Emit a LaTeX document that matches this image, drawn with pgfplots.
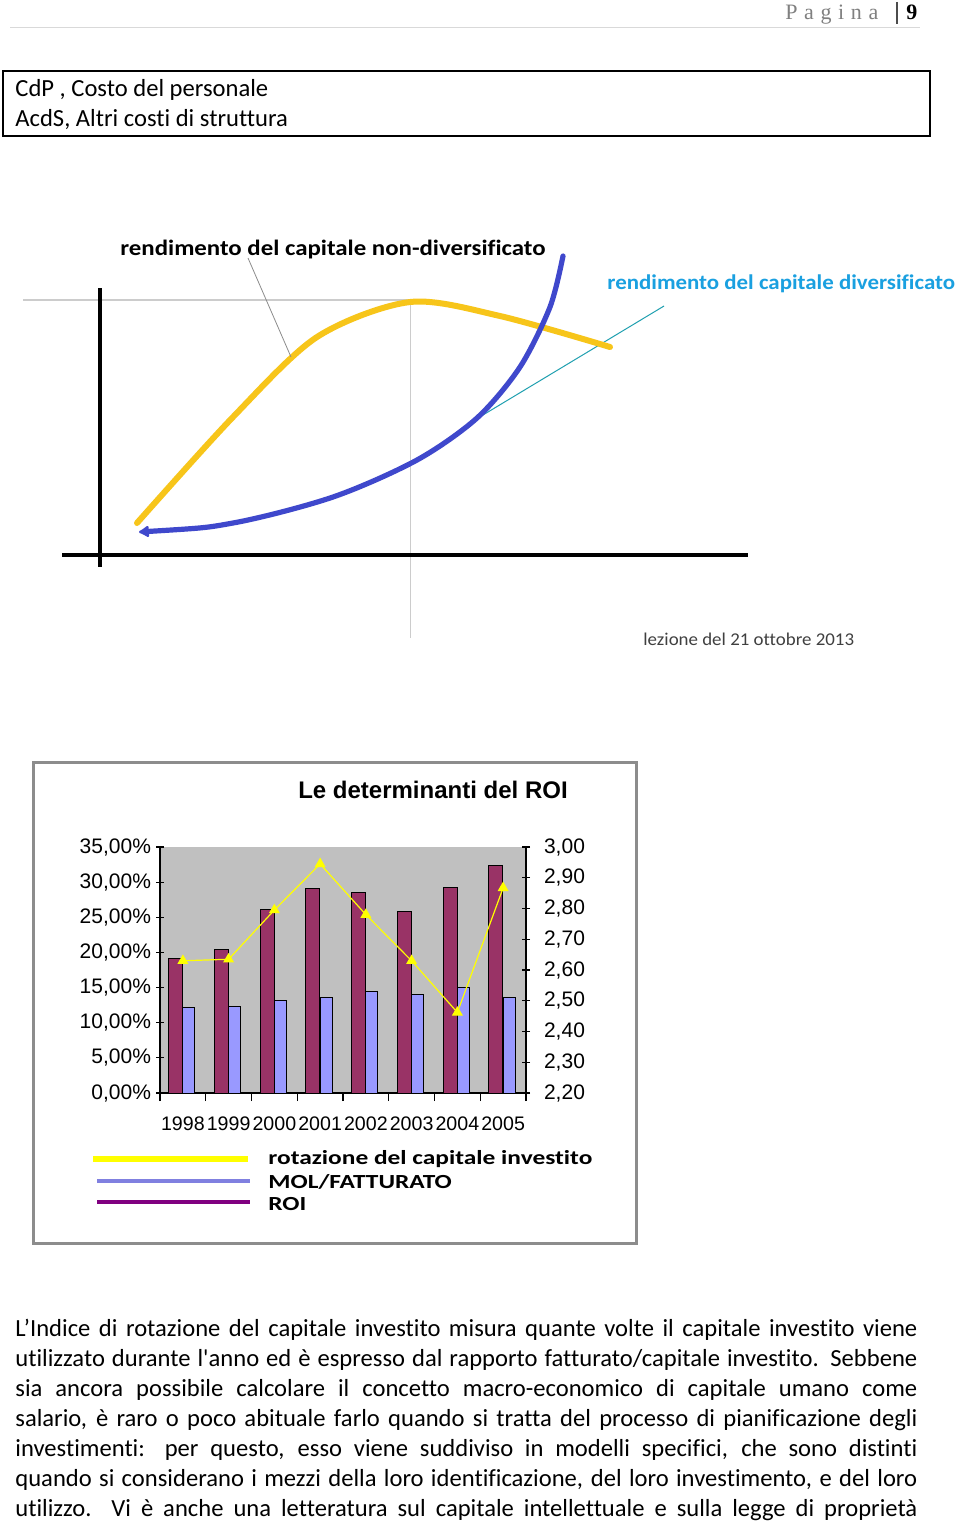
\documentclass[border=0pt]{standalone}
\usepackage{pgfplots}
\pgfplotsset{compat=1.18}
\usepackage{graphicx}
\usepackage{fontspec}
\setmainfont{Carlito}[Ligatures={TeXOff,CommonOff}]
\newfontfamily\arialfont{Liberation Sans}
\newfontfamily\hdrfont[LetterSpace=30]{Liberation Serif}
\newfontfamily\hdrnum{Liberation Serif}
\usetikzlibrary{arrows.meta}
\definecolor{roi}{HTML}{993366}
\definecolor{mol}{HTML}{9999FF}
\definecolor{plotbg}{HTML}{C0C0C0}
\definecolor{yel}{HTML}{FFFF00}
\definecolor{legblue}{HTML}{8080E0}
\definecolor{legpurple}{HTML}{800080}
\definecolor{gold}{HTML}{F7C51A}
\definecolor{paintblue}{HTML}{3F48CC}
\definecolor{tealline}{HTML}{20A0B0}
\definecolor{divtext}{HTML}{1AA0E0}
\definecolor{framegray}{HTML}{8C8C8C}

\pgfplotstableread{
x roi mol rot
0 0.191 0.122 2.630
1 0.204 0.123 2.635
2 0.261 0.131 2.795
3 0.291 0.136 2.945
4 0.285 0.144 2.780
5 0.258 0.140 2.630
6 0.293 0.150 2.462
7 0.324 0.136 2.867
}\roidata

\begin{document}
\begin{tikzpicture}
\fill[white] (0,0) rectangle (480pt,-762pt);
\useasboundingbox (0,0) rectangle (480pt,-762pt);

% ---------- top diagram (pixel coordinates) ----------
\begin{axis}[at={(0pt,-762pt)}, anchor=south west, scale only axis,
  width=480pt, height=762pt, xmin=0, xmax=960, ymin=0, ymax=1524,
  y dir=reverse, hide axis, clip=false]
  % light grey guide lines
  \addplot[color=black!20, line width=0.6pt] coordinates {(23,300) (416,300)};
  \addplot[color=black!20, line width=0.5pt] coordinates {(410,300) (410,638)};
  % black axes
  \addplot[black, line width=1.6pt] coordinates {(100,288) (100,567)};
  \addplot[black, line width=1.8pt] coordinates {(62,555) (748,555)};
  % teal tangent
  \addplot[tealline, line width=0.5pt] coordinates {(478,418) (664,306)};
  % yellow curve
  \addplot[gold, line width=3pt, smooth, line cap=round] coordinates {
    (137,523) (233,417) (317,337) (410,302) (500,316) (610,347)};
  % leader line
  \addplot[black!45, line width=0.4pt] coordinates {(248,258) (291,357)};
  % blue curve
  \addplot[paintblue, line width=2.6pt, smooth, line cap=round,
    {Latex[length=6pt,width=7pt,round]}-] coordinates {
    (139,532) (233,523) (333,497) (417,460) (477,418) (520,367)
    (550,307) (563,256)};
\end{axis}

\begin{scope}[x=0.5pt,y=-0.5pt]
  % header
  \draw[black!15, line width=0.5pt] (10,28) -- (920,28);
  \node[anchor=base west, inner sep=0, text=black!50] at (785,20)
    {\hdrfont\fontsize{11}{12}\selectfont Pagina};
  \draw[black!70, line width=0.6pt] (897,2) -- (897,24);
  \node[anchor=base west, inner sep=0] at (906,20)
    {\hdrnum\bfseries\fontsize{11}{12}\selectfont 9};
  % box
  \draw[black, line width=0.8pt] (3,71) rectangle (930,136);
  \node[anchor=base west, inner sep=0] at (15,97)
    {\fontsize{12.3}{15}\selectfont CdP , Costo del personale};
  \node[anchor=base west, inner sep=0] at (15,127)
    {\fontsize{12.3}{15}\selectfont AcdS, Altri costi di struttura};
  % diagram texts
  \node[anchor=base west, inner sep=0] at (120,256)
    {\scalebox{1.13}[1]{\fontsize{11}{13}\selectfont\bfseries rendimento del capitale non-diversificato}};
  \node[anchor=base west, inner sep=0, text=divtext] at (607,290)
    {\scalebox{1.09}[1]{\fontsize{10.5}{13}\selectfont\bfseries rendimento del capitale diversificato}};
  \node[anchor=base west, inner sep=0, text=black!75] at (643,645)
    {\scalebox{1.05}[1]{\fontsize{9}{11}\selectfont lezione del 21 ottobre 2013}};
  % chart frame
  \draw[framegray, line width=1.5pt] (33,762) rectangle (636,1243);
  \node[inner sep=0] at (433,790)
    {\arialfont\bfseries\fontsize{12}{14}\selectfont Le determinanti del ROI};
  % legend
  \draw[yel, line width=2.6pt] (93,1159) -- (248,1159);
  \draw[legblue, line width=2pt] (97,1181) -- (250,1181);
  \draw[legpurple, line width=2pt] (97,1202) -- (250,1202);
  \node[anchor=west, inner sep=0] at (268,1159)
    {\scalebox{1.27}[1]{\fontsize{10}{12}\selectfont\bfseries rotazione del capitale investito}};
  \node[anchor=west, inner sep=0] at (268,1182)
    {\scalebox{1.27}[1]{\fontsize{10}{12}\selectfont\bfseries MOL/FATTURATO}};
  \node[anchor=west, inner sep=0] at (268,1204)
    {\scalebox{1.27}[1]{\fontsize{10}{12}\selectfont\bfseries ROI}};
  % body text
  \foreach \yy/\tt in {
    1336/{L’Indice di rotazione del capitale investito misura quante volte il capitale investito viene},
    1366/{utilizzato durante l'anno ed è espresso dal rapporto fatturato/capitale investito. Sebbene},
    1396/{sia ancora possibile calcolare il concetto macro-economico di capitale umano come},
    1426/{salario, è raro o poco abituale farlo quando si tratta del processo di pianificazione degli},
    1456/{investimenti: per questo, esso viene suddiviso in modelli specifici, che sono distinti},
    1486/{quando si considerano i mezzi della loro identificazione, del loro investimento, e del loro},
    1516/{utilizzo.\ \ Vi è anche una letteratura sul capitale intellettuale e sulla legge di proprietà}}
  {\node[anchor=base west, inner sep=0] at (15,\yy)
    {\fontsize{12.3}{15}\selectfont\makebox[451pt][s]{\tt}};}
\end{scope}

% ---------- bar chart, left axis ----------
\begin{axis}[at={(80pt,-546.5pt)}, anchor=south west, scale only axis,
  width=183pt, height=123pt,
  xmin=-0.5, xmax=7.5, ymin=0, ymax=0.35,
  axis x line*=bottom, axis y line*=left,
  x axis line style={-}, y axis line style={-},
  axis line style={black, line width=0.6pt},
  axis background/.style={fill=plotbg},
  xtick={0,...,7},
  xticklabels={1998,1999,2000,2001,2002,2003,2004,2005},
  major x tick style={draw=none},
  minor xtick={-0.5,0.5,1.5,2.5,3.5,4.5,5.5,6.5,7.5},
  xtick align=outside, ytick align=center,
  major tick length=4pt, minor tick length=4pt,
  tick style={black, line width=0.6pt},
  ytick={0,0.05,0.1,0.15,0.2,0.25,0.3,0.35},
  yticklabels={{0,00\%},{5,00\%},{10,00\%},{15,00\%},{20,00\%},{25,00\%},{30,00\%},{35,00\%}},
  yticklabel style={font=\arialfont\fontsize{10.5}{10.5}\selectfont, xshift=1pt},
  xticklabel style={font=\arialfont\fontsize{9.8}{10}\selectfont, inner xsep=0pt, yshift=-4.5pt},
]
  \addplot[ybar, bar width=7pt, bar shift=-3.6pt, fill=roi, draw=black, line width=0.5pt]
    table[x=x, y=roi] {\roidata};
  \addplot[ybar, bar width=6pt, bar shift=3pt, fill=mol, draw=black, line width=0.5pt]
    table[x=x, y=mol] {\roidata};
\end{axis}

% ---------- bar chart, right axis ----------
\begin{axis}[at={(80pt,-546.5pt)}, anchor=south west, scale only axis,
  width=183pt, height=123pt,
  xmin=-0.5, xmax=7.5, ymin=2.2, ymax=3.0,
  axis y line*=right, axis x line=none,
  y axis line style={-},
  axis line style={black, line width=0.6pt},
  ytick align=center, major tick length=4pt,
  tick style={black, line width=0.6pt},
  ytick={2.2,2.3,2.4,2.5,2.6,2.7,2.8,2.9,3.0},
  yticklabels={{2,20},{2,30},{2,40},{2,50},{2,60},{2,70},{2,80},{2,90},{3,00}},
  yticklabel style={font=\arialfont\fontsize{10.5}{10.5}\selectfont, xshift=3.5pt},
]
  \addplot[yel, line width=0.6pt, mark=triangle*, mark size=2.6pt,
    mark options={fill=yel, draw=yel}]
    table[x=x, y=rot] {\roidata};
\end{axis}
\end{tikzpicture}
\end{document}
